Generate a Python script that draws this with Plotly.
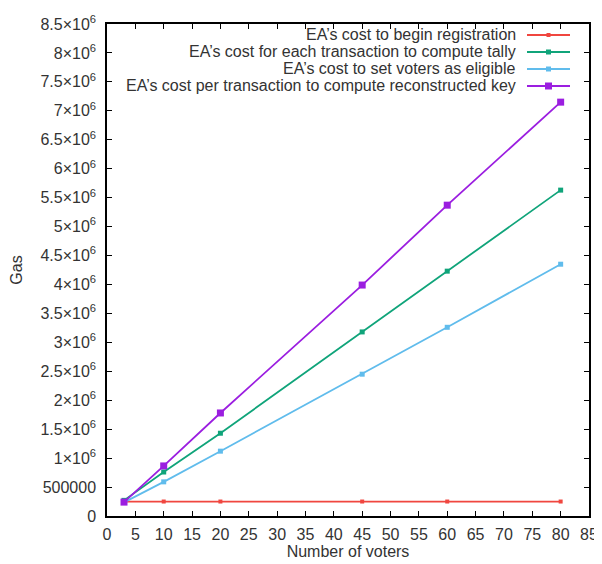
import plotly.graph_objects as go

voters = [3, 10, 20, 45, 60, 80]
begin_registration = [250000, 250000, 250000, 250000, 250000, 250000]
compute_tally = [270000, 760000, 1430000, 3180000, 4230000, 5630000]
set_eligible = [235000, 590000, 1120000, 2450000, 3260000, 4350000]
reconstructed_key = [240000, 865000, 1780000, 3990000, 5370000, 7150000]

series_names = [
    "EA\u2019s cost to begin registration",
    "EA\u2019s cost for each transaction to compute tally",
    "EA\u2019s cost to set voters as eligible",
    "EA\u2019s cost per transaction to compute reconstructed key",
]
series_values = [begin_registration, compute_tally, set_eligible, reconstructed_key]
colors = ["#f0463f", "#10a47a", "#60bcec", "#9b1ee0"]
marker_sizes = [4, 5, 5, 7]

y_tick_vals = [i * 500000 for i in range(18)]
y_tick_text = ["0", "500000"] + [
    (f"{v/1e6:g}") + "\u00d710<sup>6</sup>" for v in y_tick_vals[2:]
]
x_tick_vals = list(range(0, 90, 5))

FONT = "Liberation Sans, Arial, sans-serif"
FS = 16
TXT = "#333333"

fig = go.Figure()
for name, vals, col, ms in zip(series_names, series_values, colors, marker_sizes):
    fig.add_trace(go.Scatter(
        x=voters, y=vals, mode="lines+markers", name=name,
        line=dict(color=col, width=1.8),
        marker=dict(color=col, size=ms, symbol="square"),
        showlegend=False,
    ))

# page body has an 8px margin; figure is sized so the plot sits where the reference has it
OFF = 8
W, H = 602 - OFF, 564 - OFF
ml, mr, mt, mb = 107 - OFF, 13, 24 - OFF, 48
pw, ph = W - ml - mr, H - mt - mb

def px_to_paper(x, y):
    # x, y in screen pixels
    return (x - OFF - ml) / pw, 1 - (y - OFF - mt) / ph

# gnuplot-style legend: text right-aligned, sample on the right
row_y0 = 35
row_dy = 17
for i, (name, col, ms) in enumerate(zip(series_names, colors, marker_sizes)):
    yy = row_y0 + i * row_dy
    tx, ty = px_to_paper(518, yy)
    fig.add_annotation(x=tx, y=ty, xref="paper", yref="paper", text=name,
                       showarrow=False, xanchor="right", yanchor="middle",
                       font=dict(family=FONT, size=FS, color=TXT))
    x0, y0 = px_to_paper(527, yy)
    x1, _ = px_to_paper(570, yy)
    fig.add_shape(type="line", xref="paper", yref="paper", x0=x0, x1=x1, y0=y0, y1=y0,
                  line=dict(color=col, width=1.8))
    cx, cy = px_to_paper(548.5, yy)
    hx = (ms / 2) / pw
    hy = (ms / 2) / ph
    fig.add_shape(type="rect", xref="paper", yref="paper",
                  x0=cx - hx, x1=cx + hx, y0=cy - hy, y1=cy + hy,
                  fillcolor=col, line=dict(width=0))

axis_common = dict(
    showgrid=False, zeroline=False, showline=True, linecolor="black", linewidth=1.5,
    mirror="allticks", ticks="inside", ticklen=5, tickcolor="black", tickwidth=1,
    tickfont=dict(family=FONT, size=FS, color=TXT), automargin=False,
)

fig.update_layout(
    width=W, height=H,
    margin=dict(l=ml, r=mr, t=mt, b=mb),
    paper_bgcolor="white", plot_bgcolor="white",
    font=dict(family=FONT, size=FS, color=TXT),
    xaxis=dict(range=[0, 85], tickvals=x_tick_vals, ticklabelstandoff=3,
               title=dict(text="Number of voters", standoff=4,
                          font=dict(family=FONT, size=FS, color=TXT)),
               **axis_common),
    yaxis=dict(range=[0, 8500000], tickvals=y_tick_vals, ticktext=y_tick_text,
               ticklabelstandoff=6,
               title=dict(text="Gas", standoff=14,
                          font=dict(family=FONT, size=FS, color=TXT)),
               **axis_common),
)

fig.write_html("out.html")
